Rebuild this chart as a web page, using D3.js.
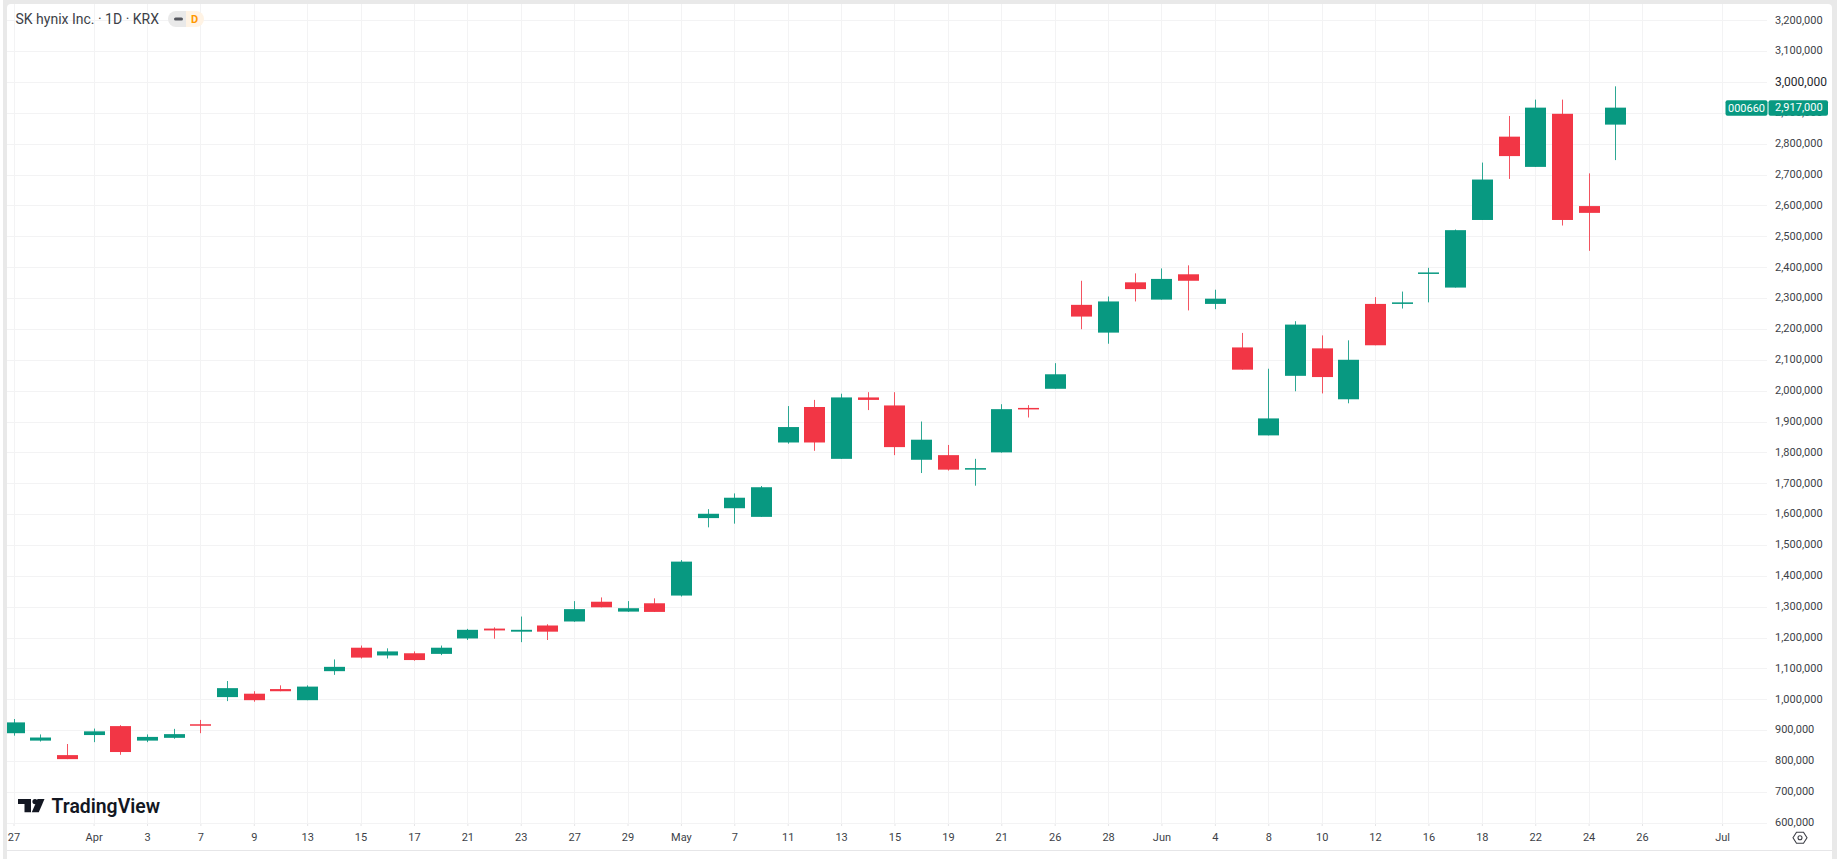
<!DOCTYPE html>
<html>
<head>
<meta charset="utf-8">
<title>SK hynix Inc. daily candles</title>
<script src="https://cdn.jsdelivr.net/npm/d3@7"></script>
<style>
  html, body { margin: 0; padding: 0; background: #fff; overflow: hidden; }
  svg { display: block; }
  text { font-family: Roboto, sans-serif; }
</style>
</head>
<body>
<svg id="chart" width="1840" height="859"></svg>
<script>
// Trading sessions, plus the empty days to the right of the last candle
const sessions = [
  "03-27","03-30","03-31","04-01","04-02","04-03","04-06","04-07","04-08","04-09",
  "04-10","04-13","04-14","04-15","04-16","04-17","04-20","04-21","04-22","04-23",
  "04-24","04-27","04-28","04-29","04-30","05-04","05-06","05-07","05-08","05-11",
  "05-12","05-13","05-14","05-15","05-18","05-19","05-20","05-21","05-22","05-26",
  "05-27","05-28","05-29","06-01","06-02","06-04","06-05","06-08","06-09","06-10",
  "06-11","06-12","06-15","06-16","06-17","06-18","06-19","06-22","06-23","06-24",
  "06-25","06-26","06-29","06-30","07-01"
];

const opens = [
  890000,866000,819000,884000,913000,866000,875000,919000,1007000,1018000,
  1033000,997000,1091000,1167000,1142000,1149000,1147000,1197000,1229000,1219000,
  1239000,1252000,1316000,1284000,1311000,1336000,1587000,1619000,1591000,1832000,
  1947000,1779000,1978000,1952000,1776000,1791000,1744000,1800000,1944000,2006000,
  2278000,2188000,2351000,2295000,2377000,2281000,2140000,1855000,2048000,2137000,
  1972000,2281000,2281000,2380000,2334000,2553000,2823000,2725000,2897000,2598000,
  2862000
];
const highs = [
  936000,886000,855000,905000,916000,886000,904000,933000,1059000,1026000,
  1045000,1045000,1129000,1174000,1165000,1155000,1174000,1228000,1233000,1268000,
  1243000,1318000,1330000,1318000,1327000,1451000,1616000,1667000,1691000,1950000,
  1970000,1990000,1995000,1995000,1900000,1824000,1779000,1956000,1953000,2089000,
  2356000,2305000,2380000,2396000,2406000,2327000,2187000,2071000,2225000,2179000,
  2163000,2303000,2321000,2398000,2522000,2739000,2890000,2943000,2943000,2704000,
  2986000
];
const lows = [
  882000,863000,806000,861000,820000,861000,872000,890000,994000,992000,
  1026000,997000,1079000,1132000,1132000,1125000,1143000,1192000,1196000,1185000,
  1192000,1251000,1298000,1283000,1283000,1333000,1557000,1569000,1591000,1828000,
  1805000,1779000,1937000,1791000,1733000,1741000,1692000,1799000,1913000,2006000,
  2199000,2152000,2289000,2295000,2260000,2264000,2068000,1855000,1998000,1991000,
  1959000,2147000,2266000,2286000,2334000,2553000,2686000,2725000,2535000,2453000,
  2747000
];
const closes = [
  925000,876000,806000,896000,829000,878000,887000,916000,1036000,997000,
  1026000,1041000,1105000,1135000,1155000,1127000,1167000,1225000,1223000,1225000,
  1219000,1292000,1298000,1295000,1283000,1446000,1601000,1653000,1687000,1882000,
  1832000,1978000,1970000,1817000,1841000,1744000,1749000,1940000,1940000,2053000,
  2240000,2289000,2329000,2362000,2356000,2298000,2068000,1910000,2214000,2044000,
  2100000,2147000,2286000,2383000,2520000,2684000,2760000,2917000,2553000,2576000,
  2917000
];

const priceTicks = d3.range(600000, 3200001, 100000);
const boldPrices = [3000000];
const dateTicks = [
  "03-27","04-01","04-03","04-07","04-09","04-13","04-15","04-17","04-21","04-23",
  "04-27","04-29","05-04","05-07","05-11","05-13","05-15","05-19","05-21","05-26",
  "05-28","06-01","06-04","06-08","06-10","06-12","06-16","06-18","06-22","06-24",
  "06-26","07-01"
];
const dateLabels = [
  "27","Apr","3","7","9","13","15","17","21","23",
  "27","29","May","7","11","13","15","19","21","26",
  "28","Jun","4","8","10","12","16","18","22","24",
  "26","Jul"
];

const title = "SK hynix Inc. · 1D · KRX";
const symbol = "000660";
const lastPrice = closes[closes.length - 1];

const UP = "#089981", DOWN = "#f23645", GRID = "#f3f3f4", CHROME = "#e9e9e9", INK = "#3d3f47";

const svg = d3.select("#chart");

// Page chrome: grey gutters around the white panel
svg.append("rect").attr("width", 1840).attr("height", 859).attr("fill", "#fff");
svg.append("rect").attr("x", 3).attr("width", 1834).attr("height", 859).attr("fill", CHROME);
svg.append("rect").attr("x", 7).attr("y", 4).attr("width", 1825).attr("height", 860).attr("rx", 4).attr("fill", "#fff");
svg.append("rect").attr("x", 7).attr("y", 850).attr("width", 1825).attr("height", 9).attr("fill", "#fff");
svg.append("rect").attr("x", 7).attr("y", 850).attr("width", 1825).attr("height", 1).attr("fill", "#e6e6e8");

const x = d3.scalePoint().domain(sessions).range([13.5, 1722.1]);
const y = d3.scaleLinear().domain([600000, 3200000]).range([822.7, 20.3]);
const plotRight = 1767, plotBottom = 824;

svg.append("clipPath").attr("id", "plot")
  .append("rect").attr("x", 7).attr("y", 4).attr("width", plotRight - 7).attr("height", plotBottom - 4);

// Grid
const grid = svg.append("g").attr("fill", "none").attr("stroke", GRID).attr("stroke-width", 1);
grid.selectAll(".h").data(priceTicks).join("line")
  .attr("x1", 7).attr("x2", plotRight)
  .attr("y1", d => Math.round(y(d)) + 0.5).attr("y2", d => Math.round(y(d)) + 0.5);
grid.selectAll(".v").data(dateTicks).join("line")
  .attr("x1", d => Math.round(x(d)) + 0.5).attr("x2", d => Math.round(x(d)) + 0.5)
  .attr("y1", 4).attr("y2", plotBottom);

// Candles
const candles = d3.range(opens.length).map(i => ({
  session: sessions[i], o: opens[i], h: highs[i], l: lows[i], c: closes[i]
}));
const bodyWidth = 21;
const marks = svg.append("g").attr("clip-path", "url(#plot)");
const candle = marks.selectAll("g").data(candles).join("g")
  .attr("fill", d => d.c >= d.o ? UP : DOWN)
  .attr("stroke", d => d.c >= d.o ? UP : DOWN);
candle.append("line")
  .attr("x1", d => Math.round(x(d.session)) + 0.5).attr("x2", d => Math.round(x(d.session)) + 0.5)
  .attr("y1", d => y(d.h)).attr("y2", d => y(d.l))
  .attr("stroke-width", 1).attr("stroke-opacity", 0.85);
candle.append("rect")
  .attr("x", d => Math.round(x(d.session)) + 0.5 - bodyWidth / 2)
  .attr("y", d => y(Math.max(d.o, d.c)))
  .attr("width", bodyWidth)
  .attr("height", d => Math.max(1.5, Math.abs(y(d.o) - y(d.c))))
  .attr("stroke", "none");

// Price axis
const priceAxis = svg.append("g").attr("transform", "translate(1767,0)")
  .call(d3.axisRight(y).tickValues(priceTicks).tickFormat(d3.format(",")).tickSize(0).tickPadding(8));
priceAxis.select(".domain").remove();
priceAxis.selectAll("text")
  .attr("font-family", "Roboto, sans-serif")
  .attr("font-size", d => boldPrices.includes(d) ? 12 : 11)
  .attr("fill", d => boldPrices.includes(d) ? "#26282e" : INK)
  .attr("y", -0.7);

// Date axis
const dateAxis = svg.append("g").attr("transform", `translate(0,${plotBottom})`)
  .call(d3.axisBottom(x).tickValues(dateTicks)
    .tickFormat(d => dateLabels[dateTicks.indexOf(d)]).tickSize(2).tickPadding(7));
dateAxis.select(".domain").remove();
dateAxis.selectAll("line").attr("stroke", "#e4e4e6");
dateAxis.selectAll("text")
  .attr("font-family", "Roboto, sans-serif")
  .attr("font-size", 11)
  .attr("fill", INK);

// Last price tag
const tag = svg.append("g");
const tagTop = y(lastPrice) - 7.5;
tag.append("rect").attr("x", 1725.5).attr("y", tagTop).attr("width", 42).attr("height", 15.5).attr("rx", 2).attr("fill", UP);
tag.append("rect").attr("x", 1768.5).attr("y", tagTop).attr("width", 59.5).attr("height", 15.5).attr("rx", 2).attr("fill", UP);
tag.append("text").attr("x", 1746.5).attr("y", tagTop + 11.5).attr("text-anchor", "middle")
  .attr("font-size", 11).attr("fill", "#fff").text(symbol);
tag.append("text").attr("x", 1775).attr("y", tagTop + 11).attr("font-size", 11).attr("fill", "#fff")
  .text(d3.format(",")(lastPrice));

// Legend line with the status pill
svg.append("text").attr("x", 15.5).attr("y", 24).attr("font-size", 14).attr("fill", INK).text(title);
const pill = svg.append("g");
pill.append("path").attr("d", "M186 11H176a8 8 0 0 0 0 16H186Z").attr("fill", CHROME);
pill.append("path").attr("d", "M186 11H196a8 8 0 0 1 0 16H186Z").attr("fill", "#fff3e4");
pill.append("rect").attr("x", 174).attr("y", 17.5).attr("width", 9).attr("height", 3).attr("rx", 1.5).attr("fill", "#55575e");
pill.append("text").attr("x", 194.5).attr("y", 23).attr("text-anchor", "middle")
  .attr("font-size", 11).attr("font-weight", 700).attr("fill", "#ff9800").text("D");

// TradingView mark and wordmark
const logo = svg.append("g").attr("transform", "translate(18,799)").attr("fill", "#131722");
logo.append("path").attr("d", "M0 0H13V13.3H6.5V5H0Z");
logo.append("circle").attr("cx", 17).attr("cy", 2.6).attr("r", 2.6);
logo.append("path").attr("d", "M26.5 0L20.8 13.3H13.8L19.5 0Z");
svg.append("text").attr("x", 51.5).attr("y", 812.5)
  .attr("font-family", "Inter, sans-serif").attr("font-size", 19.4).attr("font-weight", 600)
  .attr("fill", "#131722").text("TradingView");

// Scale settings icon
const gear = svg.append("g").attr("transform", "translate(1800,837.7)").attr("fill", "none").attr("stroke", "#3d3f47");
gear.append("path").attr("d", "M-7 0L-3.5 -5.5H3.5L7 0L3.5 5.5H-3.5Z").attr("stroke-width", 1.1);
gear.append("circle").attr("r", 2).attr("stroke-width", 1.1);
</script>
</body>
</html>
